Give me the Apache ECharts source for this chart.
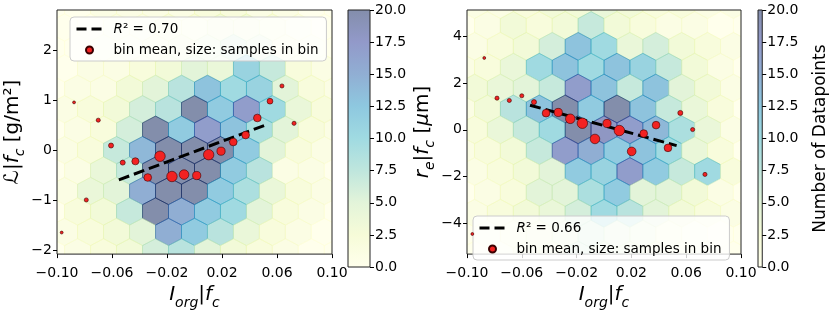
<!DOCTYPE html>
<html><head><meta charset="utf-8">
<script src="https://cdn.jsdelivr.net/npm/echarts@6/dist/echarts.min.js"></script>
<style>html,body{margin:0;padding:0;background:#fff}#c{width:830px;height:315px}</style>
</head><body><div id="c"></div>
<script>
// ---------------- data ----------------
const xTicks = [-0.10, -0.06, -0.02, 0.02, 0.06, 0.10];
const leftYTicks = [-2, -1, 0, 1, 2];
const rightYTicks = [-4, -2, 0, 2, 4];
const cbTicks = [0, 2.5, 5, 7.5, 10, 12.5, 15, 17.5, 20];
const cbMax = 20;

// hexagonal bins: column spacing in x, row y-centres (top -> bottom), offset flag, counts per row
const hexDX = 0.0189;
const leftRowStep = 0.408;
const leftHexRowsY = [2.855, 2.447, 2.039, 1.631, 1.223, 0.815, 0.407, -0.001, -0.409, -0.817, -1.225, -1.633, -2.041];
const leftHexOffset = [1, 0, 1, 0, 1, 0, 1, 0, 1, 0, 1, 0, 1];
const leftHexCounts = [
  [0, 0, 1, 1, 1, 1, 2, 2, 1, 1, 0, 0],
  [0, 0, 1, 1, 2, 2, 3, 3, 2, 1, 0],
  [0, 0, 1, 1, 2, 3, 4, 6, 5, 2, 1, 0],
  [0, 1, 1, 2, 3, 5, 4, 11, 7, 2, 1],
  [0, 1, 1, 3, 5, 8, 13, 10, 11, 5, 2, 1],
  [1, 2, 3, 6, 8, 20, 12, 17, 10, 4, 2],
  [0, 1, 2, 6, 20, 12, 17, 13, 9, 5, 2, 1],
  [1, 2, 7, 14, 20, 20, 20, 12, 5, 2, 1],
  [0, 1, 4, 7, 20, 20, 20, 12, 8, 1, 1, 0],
  [1, 4, 5, 15, 20, 20, 12, 9, 4, 2, 1],
  [0, 2, 3, 7, 20, 15, 12, 10, 5, 2, 1, 0],
  [1, 2, 3, 5, 15, 12, 8, 4, 2, 1, 0],
  [0, 1, 2, 3, 6, 8, 5, 3, 2, 1, 0, 0]
];

const rightRowStep = 0.889;
const rightHexRowsY = [5.334, 4.445, 3.556, 2.667, 1.778, 0.889, 0, -0.889, -1.778, -2.667, -3.556, -4.445, -5.334];
const rightHexOffset = [0, 1, 0, 1, 0, 1, 0, 1, 0, 1, 0, 1, 0];
const rightHexCounts = [
  [1, 1, 2, 3, 3, 4, 3, 2, 2, 1, 1],
  [0, 1, 3, 2, 3, 7, 3, 2, 1, 1, 0, 0],
  [1, 2, 3, 6, 13, 10, 4, 6, 3, 2, 1],
  [1, 2, 4, 10, 13, 10, 13, 11, 7, 3, 1, 0],
  [3, 4, 5, 7, 17, 13, 7, 13, 5, 3, 1],
  [1, 3, 8, 13, 20, 12, 20, 13, 7, 4, 2, 0],
  [2, 4, 7, 10, 20, 18, 17, 14, 9, 4, 1],
  [1, 2, 3, 7, 17, 15, 12, 13, 10, 4, 2, 0],
  [1, 2, 3, 5, 12, 11, 17, 12, 7, 10, 2],
  [0, 1, 2, 5, 5, 9, 12, 5, 5, 3, 1, 0],
  [1, 2, 3, 4, 6, 10, 8, 5, 3, 2, 1],
  [0, 1, 2, 3, 4, 6, 5, 4, 2, 1, 0, 0],
  [0, 1, 2, 3, 6, 5, 4, 3, 2, 1, 0]
];

// bin means (x, y, samples in bin)
const leftMeanX = [-0.0966, -0.0876, -0.0787, -0.0700, -0.0607, -0.0522, -0.0430, -0.0340, -0.0251, -0.0164, -0.0076, 0.0016, 0.0103, 0.0193, 0.0282, 0.0372, 0.0457, 0.0549, 0.0636, 0.0724];
const leftMeanY = [-1.646, 0.952, -0.995, 0.597, 0.091, -0.250, -0.224, -0.547, -0.123, -0.527, -0.489, -0.508, -0.092, -0.022, 0.161, 0.300, 0.641, 0.976, 1.280, 0.534];
const leftMeanN = [1, 1, 2, 2, 3, 3, 6, 7, 13, 13, 11, 8, 13, 8, 7, 7, 7, 4, 2, 2];

const rightMeanX = [-0.0961, -0.0874, -0.0781, -0.0691, -0.0600, -0.0511, -0.0423, -0.0334, -0.0246, -0.0158, -0.0066, 0.0022, 0.0112, 0.0202, 0.0290, 0.0380, 0.0467, 0.0557, 0.0647, 0.0737];
const rightMeanY = [-4.44, 3.06, 1.35, 1.25, 1.45, 1.18, 0.71, 0.74, 0.47, 0.28, -0.39, 0.27, -0.03, -0.92, -0.16, 0.20, -0.77, 0.72, 0.01, -1.90];
const rightMeanN = [1, 1, 2, 2, 2, 3, 7, 8, 11, 13, 11, 8, 13, 9, 7, 7, 7, 3, 2, 2];

// linear fits
const fitSlope = [10.25, -16.1];
const fitIntercept = [-0.03, 0.18];
const fitXRange = [[-0.055, 0.052], [-0.054, 0.053]];
const fitR2 = ['0.70', '0.66'];

// ---------------- helpers ----------------
const ylgnbu = ['#ffffd9', '#edf8b1', '#c7e9b4', '#7fcdbb', '#41b6c4', '#1d91c0', '#225ea8', '#253494', '#081d58'];
function hex2rgb(h) { return [parseInt(h.substr(1, 2), 16), parseInt(h.substr(3, 2), 16), parseInt(h.substr(5, 2), 16)]; }
function cmap(v) {
  const t = Math.max(0, Math.min(1, v / cbMax));
  const p = t * 8, i = Math.min(7, Math.floor(p)), f = p - i;
  const a = hex2rgb(ylgnbu[i]), b = hex2rgb(ylgnbu[i + 1]);
  const c = a.map((x, k) => Math.round(x + (b[k] - x) * f));
  return 'rgb(' + c.join(',') + ')';
}
function hexData(rowsY, offs, counts) {
  const out = [];
  rowsY.forEach((y, r) => {
    const start = offs[r] ? -5.5 : -5;
    counts[r].forEach((n, k) => out.push([(start + k) * hexDX, y, n]));
  });
  return out;
}
function hexRender(rowStep) {
  return function (params, api) {
    const c = api.coord([api.value(0), api.value(1)]);
    const s = api.size([hexDX, rowStep]);
    const w = s[0] / 2, h = s[1] * 2 / 3, q = s[1] / 3;
    const pts = [[c[0], c[1] - h], [c[0] + w, c[1] - q], [c[0] + w, c[1] + q], [c[0], c[1] + h], [c[0] - w, c[1] + q], [c[0] - w, c[1] - q]];
    const col = cmap(api.value(2));
    return { type: 'polygon', shape: { points: pts }, style: { fill: col, stroke: col, lineWidth: 1, opacity: 0.5 } };
  };
}
function cbRender(params, api) {
  const p0 = api.coord([0, cbMax]), p1 = api.coord([1, 0]);
  const stops = ylgnbu.map((c, i) => ({ offset: 1 - i / 8, color: c }));
  return {
    type: 'rect', shape: { x: p0[0], y: p0[1], width: p1[0] - p0[0], height: p1[1] - p0[1] },
    style: { fill: new echarts.graphic.LinearGradient(0, 0, 0, 1, stops), opacity: 0.5 }
  };
}
function fitData(i) { return fitXRange[i].map(x => [x, fitIntercept[i] + fitSlope[i] * x]); }
function fmtTick(v) { return (v < 0 ? '\u2212' : '') + Math.abs(v).toFixed(2); }
function fmtInt(v) { return (v < 0 ? '\u2212' : '') + Math.abs(v); }

const FONT = 'DejaVu Sans';
const TICKFS = 14;
const nameRich = {
  i: { fontStyle: 'italic', fontSize: 20, lineHeight: 22, verticalAlign: 'top', fontFamily: FONT, color: '#000' },
  n: { fontSize: 20, lineHeight: 22, verticalAlign: 'top', fontFamily: FONT, color: '#000' },
  s: { fontStyle: 'italic', fontSize: 14, lineHeight: 14, padding: [11, 0, 0, 0], verticalAlign: 'top', fontFamily: FONT, color: '#000' }
};
const xName = '{i|I}{s|org}{n||}{i|f}{s|c}';
const yNameLeft = '{n|\u2112}{n||}{i|f}{s|c}{n| [g/m\u00b2]}';
const yNameRight = '{i|r}{s|e}{n||}{i|f}{s|c}{n| [}{i|\u03bc}{n|m]}';

function mainX(gi) {
  return {
    type: 'value', gridIndex: gi, min: -0.1, max: 0.1,
    axisLine: { show: false, onZero: false }, splitLine: { show: false },
    axisTick: { show: true, length: 4, lineStyle: { color: '#000' }, customValues: xTicks },
    axisLabel: { customValues: xTicks, formatter: fmtTick, fontSize: TICKFS, fontFamily: FONT, color: '#000', margin: 12 },
    name: xName, nameLocation: 'middle', nameGap: 22, nameTextStyle: { rich: nameRich }
  };
}
function mainY(gi, min, max, ticks, name, gap) {
  return {
    type: 'value', gridIndex: gi, min: min, max: max,
    axisLine: { show: false, onZero: false }, splitLine: { show: false },
    axisTick: { show: true, length: 4, lineStyle: { color: '#000' }, customValues: ticks },
    axisLabel: { customValues: ticks, formatter: fmtInt, fontSize: TICKFS, fontFamily: FONT, color: '#000', margin: 5 },
    name: name, nameLocation: 'middle', nameGap: gap, nameRotate: 90, nameTextStyle: { rich: nameRich }
  };
}
function cbX(gi) { return { type: 'value', gridIndex: gi, min: 0, max: 1, show: false, axisLine: { onZero: false } }; }
function cbY(gi, name) {
  return {
    type: 'value', gridIndex: gi, min: 0, max: cbMax, position: 'right',
    axisLine: { show: false, onZero: false }, splitLine: { show: false },
    axisTick: { show: true, length: 4, lineStyle: { color: '#000' }, customValues: cbTicks },
    axisLabel: { customValues: cbTicks, formatter: v => v.toFixed(1), fontSize: TICKFS, fontFamily: FONT, color: '#000', margin: 5 },
    name: name, nameLocation: 'middle', nameGap: 50, nameRotate: 90,
    nameTextStyle: { fontSize: 17, fontFamily: FONT, color: '#000' }
  };
}
const gridStyle = { show: true, borderColor: '#222', borderWidth: 1, backgroundColor: 'transparent' };
const legendBase = {
  orient: 'vertical', selectedMode: false,
  backgroundColor: 'rgba(255,255,255,0.8)', borderColor: '#ccc', borderWidth: 1, borderRadius: 4,
  padding: [5, 8, 4, 5], itemGap: 7, itemWidth: 26, itemHeight: 7,
  lineStyle: { width: 3, color: '#000', type: [10, 5] },
  textStyle: { fontSize: 13.5, fontFamily: FONT, color: '#000', padding: [0, 0, 0, 6], rich: { it: { fontStyle: 'italic', fontSize: 13.5, fontFamily: FONT } } },
  formatter: function (name) {
    if (name === 'fitL') return '{it|R}\u00b2 = ' + fitR2[0];
    if (name === 'fitR') return '{it|R}\u00b2 = ' + fitR2[1];
    return 'bin mean, size: samples in bin';
  }
};
const fitStyle = { lineStyle: { color: '#000', width: 3, type: [11, 5] }, itemStyle: { color: 'rgba(0,0,0,0)' } };
const meanStyle = { color: '#f22222', borderColor: '#3a0000', borderWidth: 0.6, opacity: 1 };

const option = {
  animation: false,
  backgroundColor: '#fff',
  grid: [
    Object.assign({ left: 57, top: 10, width: 275, height: 257 }, gridStyle),
    Object.assign({ left: 348, top: 10, width: 22, height: 257 }, gridStyle),
    Object.assign({ left: 467, top: 10, width: 274, height: 257 }, gridStyle),
    Object.assign({ left: 758, top: 10, width: 17, height: 257 }, gridStyle)
  ],
  xAxis: [mainX(0), cbX(1), mainX(2), cbX(3)],
  yAxis: [
    mainY(0, -2.076, 2.796, leftYTicks, yNameLeft, 26),
    cbY(1, ''),
    mainY(2, -5.296, 5.105, rightYTicks, yNameRight, 22),
    cbY(3, 'Number of Datapoints')
  ],
  legend: [
    Object.assign({ left: 70, top: 17, data: ['fitL', 'binmean'] }, legendBase),
    Object.assign({ left: 473, top: 216, data: ['fitR', 'binmean'] }, legendBase)
  ],
  series: [
    { type: 'custom', xAxisIndex: 0, yAxisIndex: 0, clip: true, z: -1, silent: true,
      data: hexData(leftHexRowsY, leftHexOffset, leftHexCounts), renderItem: hexRender(leftRowStep) },
    { type: 'custom', xAxisIndex: 2, yAxisIndex: 2, clip: true, z: -1, silent: true,
      data: hexData(rightHexRowsY, rightHexOffset, rightHexCounts), renderItem: hexRender(rightRowStep) },
    { type: 'custom', xAxisIndex: 1, yAxisIndex: 1, z: -1, silent: true, data: [[0]], renderItem: cbRender },
    { type: 'custom', xAxisIndex: 3, yAxisIndex: 3, z: -1, silent: true, data: [[0]], renderItem: cbRender },
    Object.assign({ type: 'line', name: 'fitL', xAxisIndex: 0, yAxisIndex: 0, data: fitData(0), symbol: 'none', z: 4 }, fitStyle),
    Object.assign({ type: 'line', name: 'fitR', xAxisIndex: 2, yAxisIndex: 2, data: fitData(1), symbol: 'none', z: 4 }, fitStyle),
    { type: 'scatter', name: 'binmean', xAxisIndex: 0, yAxisIndex: 0, z: 5,
      data: leftMeanX.map((x, i) => [x, leftMeanY[i], leftMeanN[i]]),
      symbolSize: v => 2.9 * Math.sqrt(v[2]), itemStyle: meanStyle },
    { type: 'scatter', name: 'binmean', xAxisIndex: 2, yAxisIndex: 2, z: 5,
      data: rightMeanX.map((x, i) => [x, rightMeanY[i], rightMeanN[i]]),
      symbolSize: v => 2.9 * Math.sqrt(v[2]), itemStyle: meanStyle }
  ]
};
const chart = echarts.init(document.getElementById('c'), null, { renderer: 'canvas' });
chart.setOption(option);
</script>
</body></html>
